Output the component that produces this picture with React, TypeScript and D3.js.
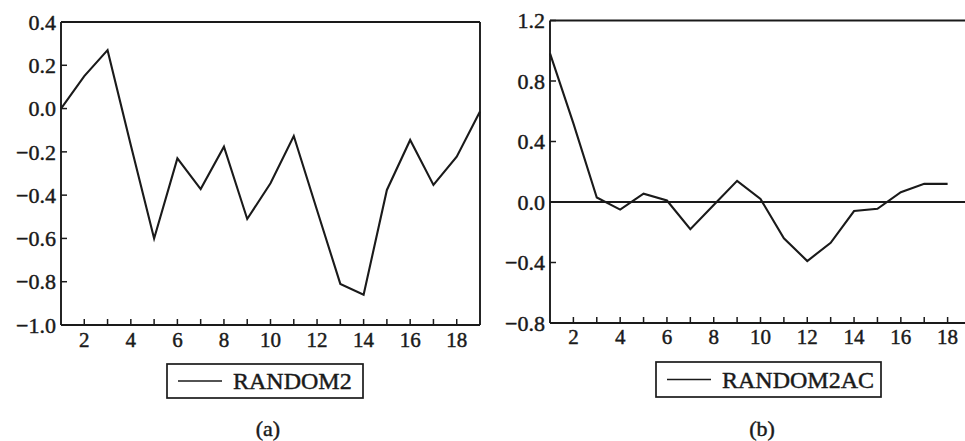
import React from "react";
import * as d3 from "d3";

// ---- data ----
const leftX = [1, 2, 3, 4, 5, 6, 7, 8, 9, 10, 11, 12, 13, 14, 15, 16, 17, 18, 19];
const random2 = [0.0, 0.15, 0.27, -0.17, -0.6, -0.23, -0.372, -0.176, -0.51, -0.345, -0.127, -0.47, -0.81, -0.86, -0.376, -0.145, -0.353, -0.222, -0.014];
const rightX = [1, 2, 3, 4, 5, 6, 7, 8, 9, 10, 11, 12, 13, 14, 15, 16, 17, 18];
const random2ac = [0.983, 0.52, 0.03, -0.05, 0.055, 0.01, -0.18, -0.02, 0.14, 0.02, -0.24, -0.39, -0.27, -0.06, -0.045, 0.065, 0.12, 0.12];
const leftYTicks = [0.4, 0.2, 0.0, -0.2, -0.4, -0.6, -0.8, -1.0];
const rightYTicks = [1.2, 0.8, 0.4, 0.0, -0.4, -0.8];
const xTickValues = [2, 3, 4, 5, 6, 7, 8, 9, 10, 11, 12, 13, 14, 15, 16, 17, 18];
const xLabelValues = [2, 4, 6, 8, 10, 12, 14, 16, 18];
const leftLegend = "RANDOM2";
const rightLegend = "RANDOM2AC";
const captions = ["(a)", "(b)"];

const FONT = "'Liberation Serif', 'Times New Roman', Times, serif";
const INK = "#1a1a1a";
const TEXT_STROKE = 0.45;

const fmt = (v: number) => {
  const s = Math.abs(v).toFixed(1);
  return v < -1e-9 ? "\u2212" + s : s;
};

type PanelProps = {
  xs: number[];
  ys: number[];
  xRange: [number, number];
  yDomain: [number, number];
  yRange: [number, number];
  yTicks: number[];
  rightBorder: boolean;
  zeroLine: boolean;
  xLabelBaseline: number;
};

function Panel(p: PanelProps) {
  const x = d3.scaleLinear().domain([1, 19]).range(p.xRange);
  const y = d3.scaleLinear().domain(p.yDomain).range(p.yRange);
  const line = d3
    .line<number>()
    .x((_, i) => x(p.xs[i]))
    .y((d) => y(d));
  const [x0, x1] = p.xRange;
  const yTop = p.yRange[1];
  const yBot = p.yRange[0];
  return (
    <g>
      {/* frame */}
      <line x1={x0} x2={x0} y1={yTop} y2={yBot} stroke={INK} strokeWidth={1.9} />
      <line x1={x0} x2={x1} y1={yTop} y2={yTop} stroke={INK} strokeWidth={1.9} />
      <line x1={x0} x2={x1} y1={yBot} y2={yBot} stroke={INK} strokeWidth={1.9} />
      {p.rightBorder && <line x1={x1} x2={x1} y1={yTop} y2={yBot} stroke={INK} strokeWidth={1.9} />}
      {p.zeroLine && <line x1={x0} x2={x1} y1={y(0)} y2={y(0)} stroke={INK} strokeWidth={1.8} />}
      {/* y ticks */}
      {p.yTicks.map((t) => (
        <g key={"y" + t}>
          <line x1={x0} x2={x0 + 6} y1={y(t)} y2={y(t)} stroke={INK} strokeWidth={1.5} />
          <text
            x={x0 - 5}
            y={y(t)}
            dy="0.35em"
            textAnchor="end"
            fontFamily={FONT}
            fontSize={22}
            fill={INK}
            stroke={INK}
            strokeWidth={TEXT_STROKE}
          >
            {fmt(t)}
          </text>
        </g>
      ))}
      {/* x ticks */}
      {xTickValues.map((t) => (
        <line key={"xt" + t} x1={x(t)} x2={x(t)} y1={yBot} y2={yBot - 6} stroke={INK} strokeWidth={1.5} />
      ))}
      {xLabelValues.map((t) => (
        <text
          key={"xl" + t}
          x={x(t)}
          y={p.xLabelBaseline}
          textAnchor="middle"
          fontFamily={FONT}
          fontSize={21}
          fill={INK}
          stroke={INK}
          strokeWidth={TEXT_STROKE}
        >
          {t}
        </text>
      ))}
      <path d={line(p.ys) || ""} fill="none" stroke={INK} strokeWidth={2.1} strokeLinejoin="miter" />
    </g>
  );
}

function Legend({ x0, x1, y0, y1, label }: { x0: number; x1: number; y0: number; y1: number; label: string }) {
  const cy = (y0 + y1) / 2;
  return (
    <g>
      <rect x={x0} y={y0} width={x1 - x0} height={y1 - y0} fill="none" stroke={INK} strokeWidth={1.7} />
      <line x1={x0 + 11} x2={x0 + 55} y1={cy} y2={cy} stroke={INK} strokeWidth={1.5} />
      <text
        x={x0 + 66}
        y={cy}
        dy="0.35em"
        fontFamily={FONT}
        fontSize={24}
        fill={INK}
        stroke={INK}
        strokeWidth={TEXT_STROKE}
      >
        {label}
      </text>
    </g>
  );
}

export default function App() {
  return (
    <svg width={965} height={441} style={{ position: "absolute", left: 0, top: 0, background: "#fff" }}>
      <rect x={0} y={0} width={965} height={441} fill="#fff" />
      <Panel
        xs={leftX}
        ys={random2}
        xRange={[61, 480]}
        yDomain={[-1.0, 0.4]}
        yRange={[325, 22]}
        yTicks={leftYTicks}
        rightBorder={true}
        zeroLine={false}
        xLabelBaseline={347}
      />
      <Panel
        xs={rightX}
        ys={random2ac}
        xRange={[550, 971]}
        yDomain={[-0.8, 1.2]}
        yRange={[323, 20.5]}
        yTicks={rightYTicks}
        rightBorder={false}
        zeroLine={true}
        xLabelBaseline={344}
      />
      <Legend x0={167} x1={363} y0={364} y1={398} label={leftLegend} />
      <Legend x0={656} x1={881} y0={362} y1={397} label={rightLegend} />
      {captions.map((c, i) => (
        <text
          key={c}
          x={i === 0 ? 268 : 762}
          y={428}
          dy="0.35em"
          textAnchor="middle"
          fontFamily={FONT}
          fontSize={22}
          fill={INK}
          stroke={INK}
          strokeWidth={TEXT_STROKE}
        >
          {c}
        </text>
      ))}
    </svg>
  );
}
